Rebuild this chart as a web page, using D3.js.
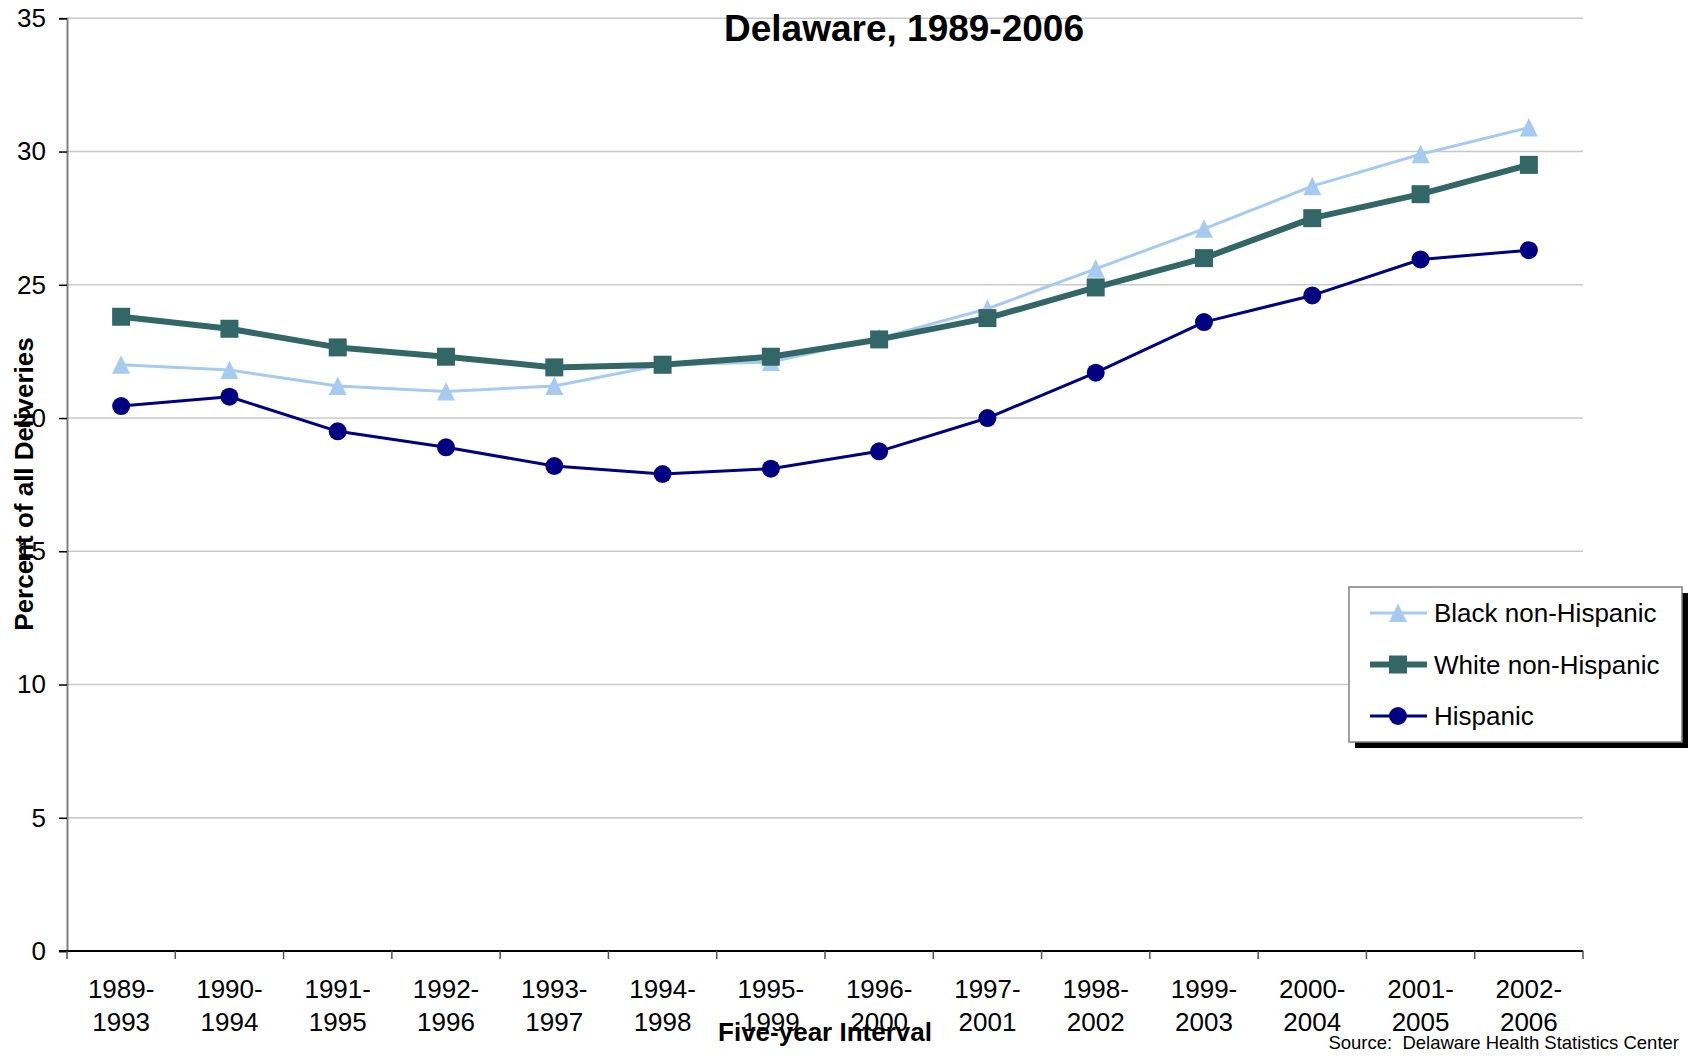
<!DOCTYPE html>
<html>
<head>
<meta charset="utf-8">
<script src="https://cdn.jsdelivr.net/npm/d3@7"></script>
<style>
  body { margin: 0; background: #fff; }
  svg { display: block; font-family: "Liberation Sans", Arial, sans-serif; }
</style>
</head>
<body>
<svg width="1697" height="1058"></svg>
<script>
// data
var intervals = ["1989-1993", "1990-1994", "1991-1995", "1992-1996", "1993-1997", "1994-1998", "1995-1999",
                 "1996-2000", "1997-2001", "1998-2002", "1999-2003", "2000-2004", "2001-2005", "2002-2006"];
var blackNonHispanic = [22.0, 21.8, 21.2, 21.0, 21.2, 22.0, 22.1, 23.0, 24.1, 25.6, 27.1, 28.7, 29.9, 30.9];
var whiteNonHispanic = [23.8, 23.35, 22.65, 22.3, 21.9, 22.0, 22.3, 22.95, 23.75, 24.9, 26.0, 27.5, 28.4, 29.5];
var hispanic = [20.45, 20.8, 19.5, 18.9, 18.2, 17.9, 18.1, 18.75, 20.0, 21.7, 23.6, 24.6, 25.95, 26.3];
var yTicks = [0, 5, 10, 15, 20, 25, 30, 35];

var series = [
  {name: "Black non-Hispanic", values: blackNonHispanic, color: "#a6caf0", width: 3, marker: "triangle"},
  {name: "White non-Hispanic", values: whiteNonHispanic, color: "#336666", width: 6, marker: "square"},
  {name: "Hispanic", values: hispanic, color: "#000080", width: 3, marker: "circle"}
];

var svg = d3.select("svg");
var plotLeft = 67, plotRight = 1583, plotTop = 18.3, plotBottom = 951;

// scales
var x = d3.scaleBand().domain(intervals).range([plotLeft, plotRight]).padding(0);
var y = d3.scaleLinear().domain([0, 35]).range([plotBottom, plotTop]);
var cx = d => x(d) + x.bandwidth() / 2;

// markers
function marker(sel, type, color) {
  if (type === "triangle") {
    sel.append("path").attr("d", "M0,-9.5L9,9L-9,9Z").attr("fill", color);
  } else if (type === "square") {
    sel.append("rect").attr("x", -9).attr("y", -9).attr("width", 18).attr("height", 18).attr("fill", color);
  } else {
    sel.append("circle").attr("r", 9).attr("fill", color);
  }
}

// grid lines
svg.append("g")
  .selectAll("line")
  .data(yTicks.filter(d => d > 0))
  .join("line")
  .attr("x1", plotLeft).attr("x2", plotRight)
  .attr("y1", d => y(d)).attr("y2", d => y(d))
  .attr("stroke", "#c8c8c8").attr("stroke-width", 1.5);

// y axis
var yAxis = svg.append("g")
  .attr("transform", "translate(" + plotLeft + ",0)")
  .call(d3.axisLeft(y).tickValues(yTicks).tickSize(8).tickPadding(13));
yAxis.select(".domain").attr("stroke", "#808080").attr("stroke-width", 2);
yAxis.selectAll(".tick line").attr("stroke", "#000").attr("stroke-width", 1.5);
yAxis.selectAll(".tick text").attr("font-size", 26).attr("fill", "#000")
  .attr("font-family", "'Liberation Sans', Arial, sans-serif");

// x axis
var xAxis = svg.append("g");
xAxis.append("line")
  .attr("x1", plotLeft - 8).attr("x2", plotRight)
  .attr("y1", plotBottom).attr("y2", plotBottom)
  .attr("stroke", "#000").attr("stroke-width", 2);
xAxis.selectAll("line.tk")
  .data(intervals.concat(["end"]))
  .join("line")
  .attr("class", "tk")
  .attr("x1", d => d === "end" ? plotRight : x(d))
  .attr("x2", d => d === "end" ? plotRight : x(d))
  .attr("y1", plotBottom).attr("y2", plotBottom + 8)
  .attr("stroke", "#555").attr("stroke-width", 1.5);
var xl = xAxis.selectAll("text")
  .data(intervals)
  .join("text")
  .attr("text-anchor", "middle")
  .attr("font-size", 26)
  .attr("fill", "#000");
xl.append("tspan").attr("x", cx).attr("y", 998).text(d => d.split("-")[0] + "-");
xl.append("tspan").attr("x", cx).attr("y", 1031).text(d => d.split("-")[1]);

// lines
var line = d3.line().x((d, i) => cx(intervals[i])).y(d => y(d));
series.forEach(function(s) {
  svg.append("path")
    .datum(s.values)
    .attr("d", line)
    .attr("fill", "none")
    .attr("stroke", s.color)
    .attr("stroke-width", s.width)
    .attr("stroke-linejoin", "round");
  svg.append("g")
    .selectAll("g")
    .data(s.values)
    .join("g")
    .attr("transform", (d, i) => "translate(" + cx(intervals[i]) + "," + y(d) + ")")
    .each(function() { marker(d3.select(this), s.marker, s.color); });
});

// title and axis titles
svg.append("text")
  .attr("x", 904).attr("y", 41)
  .attr("text-anchor", "middle")
  .attr("font-size", 37).attr("font-weight", "bold")
  .text("Delaware, 1989-2006");

svg.append("text")
  .attr("transform", "translate(33,484) rotate(-90)")
  .attr("text-anchor", "middle")
  .attr("font-size", 26).attr("font-weight", "bold")
  .text("Percent of all Deliveries");

svg.append("text")
  .attr("x", 825).attr("y", 1041)
  .attr("text-anchor", "middle")
  .attr("font-size", 26).attr("font-weight", "bold")
  .text("Five-year Interval");

svg.append("text")
  .attr("x", 1679).attr("y", 1049)
  .attr("text-anchor", "end")
  .attr("font-size", 18.5)
  .style("white-space", "pre")
  .text("Source:  Delaware Health Statistics Center");

// legend
var legend = svg.append("g");
legend.append("rect")
  .attr("x", 1355).attr("y", 593).attr("width", 333).attr("height", 155)
  .attr("fill", "#000");
legend.append("rect")
  .attr("x", 1349).attr("y", 587).attr("width", 333).attr("height", 155)
  .attr("fill", "#fff").attr("stroke", "#808080").attr("stroke-width", 1.5);
var rows = legend.selectAll("g.row")
  .data(series)
  .join("g")
  .attr("class", "row")
  .attr("transform", (d, i) => "translate(0," + (613 + i * 51.5) + ")");
rows.append("line")
  .attr("x1", 1370).attr("x2", 1427)
  .attr("stroke", d => d.color)
  .attr("stroke-width", d => d.width);
rows.append("g")
  .attr("transform", "translate(1398,0)")
  .each(function(d) { marker(d3.select(this), d.marker, d.color); });
rows.append("text")
  .attr("x", 1434).attr("y", 9)
  .attr("font-size", 26)
  .text(d => d.name);
</script>
</body>
</html>
